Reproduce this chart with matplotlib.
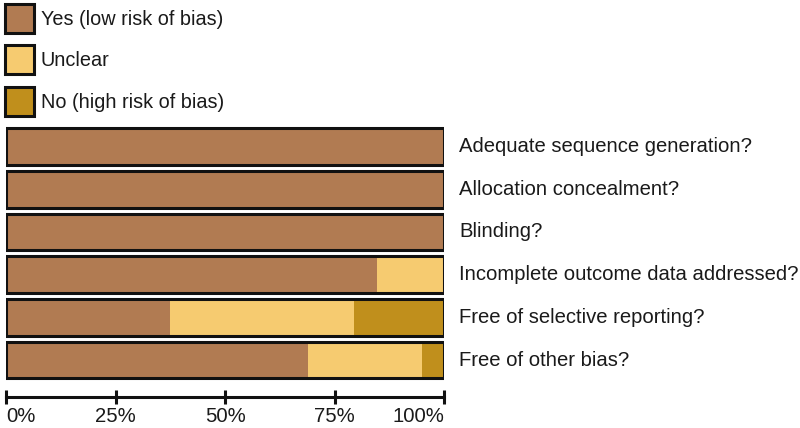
import matplotlib
matplotlib.use("Agg")
import matplotlib.pyplot as plt
import matplotlib.transforms as mtransforms
from matplotlib.patches import Patch
import numpy as np

plt.rcParams['font.family'] = ['Liberation Sans', 'DejaVu Sans']

domains = ["Adequate sequence generation?", "Allocation concealment?", "Blinding?",
           "Incomplete outcome data addressed?", "Free of selective reporting?",
           "Free of other bias?"]
yes_vals = [100, 100, 100, 84.6, 37.5, 69.0]
unclear_vals = [0, 0, 0, 15.4, 42.0, 26.0]
no_vals = [0, 0, 0, 0, 20.5, 5.0]
series_names = ["Yes (low risk of bias)", "Unclear", "No (high risk of bias)"]
colors = ["#B17B52", "#F6CB70", "#C08F1C"]
xticks = [0, 25, 50, 75, 100]
xticklabels = ["0%", "25%", "50%", "75%", "100%"]

fig = plt.figure(figsize=(8, 4.28), dpi=100)
ax = fig.add_axes([6/800, 1 - 381.35/428, 438/800, 256.2/428])

y = np.arange(len(domains))
yes = np.array(yes_vals); unc = np.array(unclear_vals); no = np.array(no_vals)
h = 0.86
ax.barh(y, yes, height=h, color=colors[0], linewidth=0)
ax.barh(y, unc, left=yes, height=h, color=colors[1], linewidth=0)
ax.barh(y, no, left=yes + unc, height=h, color=colors[2], linewidth=0)
# outline
ax.barh(y, yes + unc + no, height=h, facecolor='none', edgecolor='#111111', linewidth=2.2)

ax.set_xlim(0, 100)
ax.set_ylim(len(domains) - 0.5, -0.5)
ax.set_yticks([])
for s in ['top', 'right', 'left']:
    ax.spines[s].set_visible(False)
ax.spines['bottom'].set_position(('outward', 11.5))
ax.spines['bottom'].set_linewidth(2.2)
ax.spines['bottom'].set_color('#111111')
ax.spines['bottom'].set_bounds(0, 100)
ax.set_xticks(xticks)
ax.set_xticklabels(xticklabels, fontsize=14.6, color='#1a1a1a')
ax.tick_params(axis='x', direction='inout', length=9.5, width=2.2, pad=2, color='#111111')
tl = ax.get_xticklabels()
tl[0].set_ha('left')
tl[-1].set_ha('right')

trans = mtransforms.blended_transform_factory(ax.transAxes, ax.transData)
for yi, d in zip(y, domains):
    ax.text(1.034, yi, d, transform=trans, va='center', ha='left', fontsize=14.6, color='#1a1a1a')

handles = [Patch(facecolor=c, edgecolor='#111111', linewidth=2.2) for c in colors]
fig.legend(handles, series_names, loc='upper left', bbox_to_anchor=(5/800, 1 - 4/428),
           frameon=False, fontsize=14.3, handlelength=1.46, handleheight=1.865,
           handletextpad=0.33, labelspacing=0.63, borderpad=0, borderaxespad=0,
           labelcolor='#1a1a1a')

fig.savefig("out.png", dpi=100)
